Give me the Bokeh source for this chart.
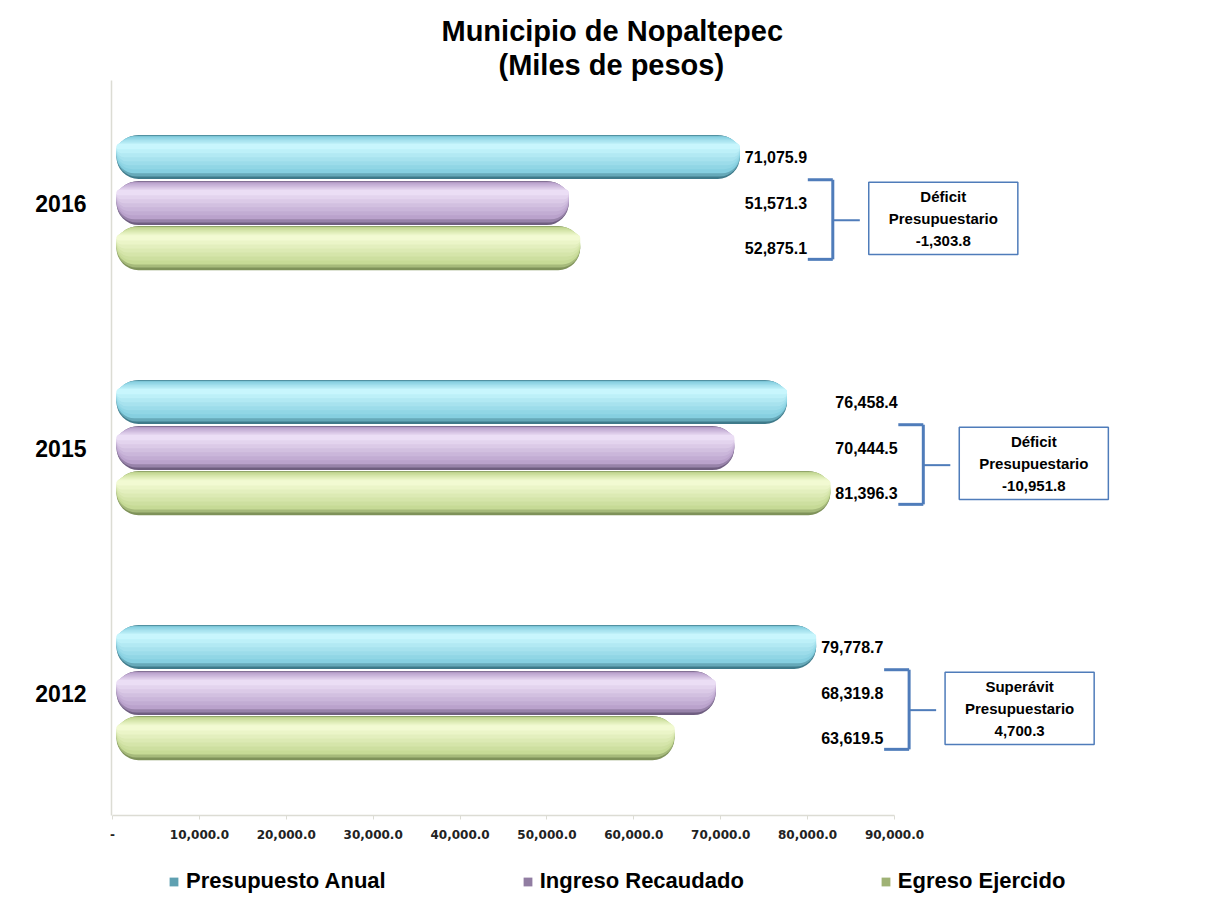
from bokeh.plotting import figure
from bokeh.layouts import column
from bokeh.models import (ColumnDataSource, FactorRange, Range1d, LinearAxis, FixedTicker,
                          CustomJSTickFormatter, Legend, LegendItem, Title)
from bokeh.transform import dodge
from bokeh.core.properties import value
from bokeh.embed import file_html
from bokeh.resources import INLINE

# ---------------- data ----------------
years = ["2012", "2015", "2016"]
presupuesto = [79778.7, 76458.4, 71075.9]
ingreso = [68319.8, 70444.5, 51571.3]
egreso = [63619.5, 81396.3, 52875.1]
series_names = ["Presupuesto Anual", "Ingreso Recaudado", "Egreso Ejercido"]
x_ticks = [0, 10000, 20000, 30000, 40000, 50000, 60000, 70000, 80000, 90000]

# ---------------- derived ----------------
group_max = [max(a, b, c) for a, b, c in zip(presupuesto, ingreso, egreso)]
balance = [round(i - e, 1) for i, e in zip(ingreso, egreso)]

FONT = "Liberation Sans"


def lerp(c1, c2, t):
    a = [int(c1[i:i + 2], 16) for i in (1, 3, 5)]
    b = [int(c2[i:i + 2], 16) for i in (1, 3, 5)]
    return "#%02x%02x%02x" % tuple(round(x + (y - x) * t) for x, y in zip(a, b))


p = figure(frame_width=1074, frame_height=735,
           y_range=FactorRange(factors=years),
           x_range=Range1d(-570, 121893),
           x_axis_location=None,
           output_backend="svg", toolbar_location=None,
           min_border_left=111, min_border_right=13,
           min_border_top=80, min_border_bottom=40)
p.outline_line_color = None
p.xgrid.visible = False
p.ygrid.visible = False
p.background_fill_color = "white"
p.border_fill_color = "white"

# titles
t2 = Title(text="(Miles de pesos)", align="left", offset=387, text_font_size="29px",
           text_font=FONT, text_font_style="bold", text_color="black", standoff=0)
t1 = Title(text="Municipio de Nopaltepec", align="left", offset=330, text_font_size="29px",
           text_font=FONT, text_font_style="bold", text_color="black", standoff=0)
p.add_layout(t2, "above")
p.add_layout(t1, "above")

# y axis
yax = p.yaxis[0]
yax.major_label_text_font = FONT
yax.major_label_text_font_style = "bold"
yax.major_label_text_font_size = "23px"
yax.major_label_text_color = "black"
yax.major_tick_line_color = None
yax.minor_tick_line_color = None
yax.axis_line_color = "#dcdcd4"
yax.axis_line_width = 1.5
yax.major_label_standoff = 19

# x axis (floor, 3-D offset)
p.extra_x_ranges = {"ticks": Range1d(-115, 123490)}
xax = LinearAxis(x_range_name="ticks", ticker=FixedTicker(ticks=x_ticks),
                 formatter=CustomJSTickFormatter(code="""
                    if (tick == 0) { return '-'; }
                    return tick.toLocaleString('en-US', {minimumFractionDigits: 1, maximumFractionDigits: 1});
                 """),
                 bounds=(0, 90000))
xax.axis_line_color = "#dcdcd4"
xax.axis_line_width = 1.5
xax.major_tick_line_color = "#dcdcd4"
xax.major_tick_out = 4
xax.major_tick_in = 0
xax.minor_tick_line_color = None
xax.major_label_text_font = "DejaVu Sans"
xax.major_label_text_font_style = "bold"
xax.major_label_text_font_size = "12px"
xax.major_label_text_color = "#222222"
xax.major_label_standoff = 10
p.add_layout(xax, "below")

# bars (layered to imitate cylinders)
BAR_H = 0.18
offsets = [0.188, 0.0, -0.184]
palettes = [  # dark edge, body, highlight
    ["#3f7a8a", "#86cfe0", "#c8f6fd"],
    ["#6f5e80", "#baa2cc", "#ebdef5"],
    ["#7f925a", "#c6da96", "#f2fad2"],
]
NG = 7
values = [presupuesto, ingreso, egreso]
for s, (name, vals, off, pal) in enumerate(zip(series_names, values, offsets, palettes)):
    src = ColumnDataSource(dict(year=years, val=vals))
    dark, body, hi = pal
    layers = [(1.0, 0.0, dark, 22), (0.93, 0.004, lerp(dark, body, 0.55), 20)]
    for k in range(NG):
        t = k / (NG - 1)
        hf = 0.84 - t * 0.72
        layers.append((hf, 0.009 + t * 0.033, lerp(body, hi, t), max(2, int(round(22 * hf)))))
    for hf, ysh, col, rad in layers:
        p.hbar(y=dodge("year", off + ysh, range=p.y_range), right="val", left=0,
               height=BAR_H * hf, fill_color=col, line_color=None,
               border_radius=int(rad), source=src)

    # value labels
    lsrc = ColumnDataSource(dict(year=years, x=[g + 570 for g in group_max],
                                 txt=[f"{v:,.1f}" for v in vals]))
    p.text(x="x", y=dodge("year", off, range=p.y_range), text="txt", source=lsrc,
           text_font=value(FONT), text_font_style="bold", text_font_size="16px",
           text_color="black", text_align="left", text_baseline="middle")

# brackets + boxes
bx = [g + 10600 for g in group_max]
bsrc = ColumnDataSource(dict(
    year=years, bx=bx,
    arm=[b - 2850 for b in bx],
    stub=[b + 3080 for b in bx],
    bl=[b + 4100 for b in bx],
    br=[b + 21100 for b in bx],
    bc=[b + 12600 for b in bx],
    txt=[("Déficit" if d < 0 else "Superávit") + "\nPresupuestario\n" + f"{d:,.1f}" for d in balance],
))
BR_COL = "#4f7cba"
TOP, BOT, MID = 0.095, -0.23, -0.07
p.segment(x0="arm", y0=dodge("year", TOP, range=p.y_range), x1="bx",
          y1=dodge("year", TOP, range=p.y_range), source=bsrc, line_color=BR_COL, line_width=3)
p.segment(x0="bx", y0=dodge("year", TOP, range=p.y_range), x1="bx",
          y1=dodge("year", BOT, range=p.y_range), source=bsrc, line_color=BR_COL, line_width=3)
p.segment(x0="arm", y0=dodge("year", BOT, range=p.y_range), x1="bx",
          y1=dodge("year", BOT, range=p.y_range), source=bsrc, line_color=BR_COL, line_width=3)
p.segment(x0="bx", y0=dodge("year", MID, range=p.y_range), x1="stub",
          y1=dodge("year", MID, range=p.y_range), source=bsrc, line_color=BR_COL, line_width=2)
p.quad(left="bl", right="br", top=dodge("year", 0.085, range=p.y_range),
       bottom=dodge("year", -0.21, range=p.y_range), source=bsrc,
       fill_color="white", line_color=BR_COL, line_width=1.5)
p.text(x="bc", y=dodge("year", -0.062, range=p.y_range), text="txt", source=bsrc,
       text_font=value(FONT), text_font_style="bold", text_font_size="15px", text_color="black",
       text_align="center", text_baseline="middle", text_line_height=1.3)

# ---------------- legend strip (separate figure under the chart) ----------------
pl = figure(width=1198, height=50, x_range=Range1d(0, 1), y_range=Range1d(0, 1),
            output_backend="svg", toolbar_location=None,
            x_axis_location=None, y_axis_location=None, min_border=0)
pl.outline_line_color = None
pl.xgrid.visible = False
pl.ygrid.visible = False
legend_items = []
for name, pal in zip(series_names, palettes):
    # swatch renderer: a zero-size entry that leaves no mark in the strip
    r = pl.hbar(y=[5], right=[0], left=0, height=0, fill_color=lerp(pal[0], pal[1], 0.45),
                line_color=None)
    legend_items.append(LegendItem(label=name, renderers=[r]))
legend = Legend(items=legend_items, orientation="horizontal", location=(57, 11),
                glyph_width=11, glyph_height=11, label_standoff=7, spacing=136,
                label_text_font=FONT, label_text_font_style="bold", label_text_font_size="22px",
                label_text_color="black", border_line_color=None, background_fill_alpha=0,
                padding=2, margin=0)
pl.add_layout(legend, "center")

layout = column(p, pl, spacing=0)
open("out.html", "w").write(file_html(layout, INLINE))
